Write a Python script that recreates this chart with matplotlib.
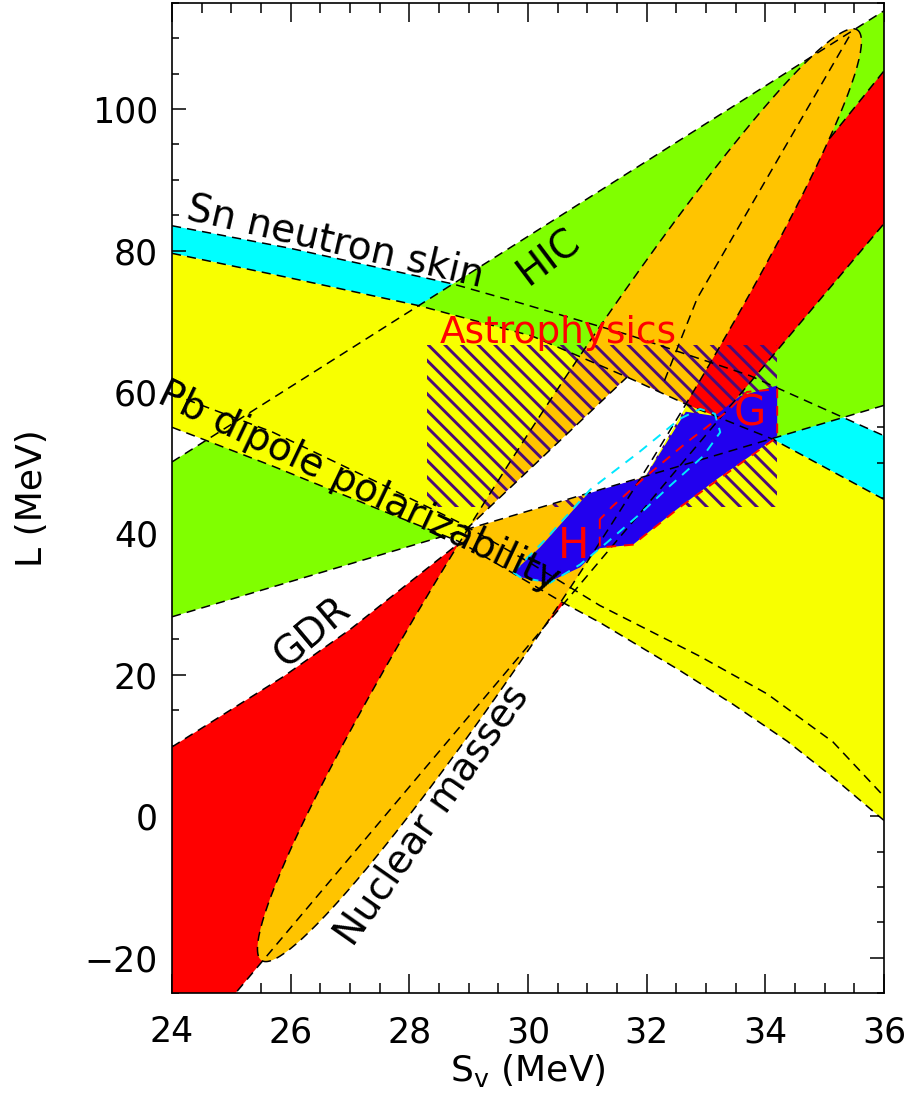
import matplotlib.pyplot as plt
import numpy as np
from matplotlib.patches import Polygon, Rectangle
from matplotlib.ticker import MultipleLocator

plt.rcParams['font.family'] = ['DejaVu Sans']
plt.rcParams['hatch.linewidth'] = 2.1
plt.rcParams['hatch.color'] = '#4b0a78'

# --- constraint boundaries, (Sv, L) in MeV ---
# Sn neutron skin (cyan band)
sn_up_sv = [24, 26, 28.72, 29.9, 31.72, 33.74, 36]
sn_up_L = [83.5, 80.3, 75.3, 72.5, 68.0, 62.3, 53.8]
sn_lo_sv = [24, 26, 28.16, 30.07, 31.67, 32.68, 34.13, 36]
sn_lo_L = [79.6, 76.1, 72.2, 67.9, 62.1, 58.2, 53.3, 44.8]

# HIC (green band)
hic_up_sv = [24, 36]
hic_up_L = [50.1, 113.9]
hic_lo_sv = [24, 36]
hic_lo_L = [28.2, 58.1]

# Pb dipole polarizability lines
pb_lo_sv = [24, 25.7, 27.37, 28.85, 30.59, 31.21, 32.56, 33.46, 34.37, 35.14, 36]
pb_lo_L = [55.0, 49.5, 43.8, 38.8, 30.2, 27.4, 20.6, 15.8, 10.6, 5.5, -0.6]
pb_hi_sv = [24, 25.7, 27.37, 28.85, 30.0, 31.21, 32.9, 34.03, 35.14, 36]
pb_hi_L = [59.7, 54.3, 47.6, 41.5, 36.0, 29.8, 22.6, 17.3, 10.5, 2.8]

# GDR (red band)
gdr_up_sv = [24, 25.87, 27.0, 28.85, 30.5, 32.5, 34.0, 35.09, 36]
gdr_up_L = [9.8, 19.7, 26.4, 38.7, 52.0, 70.0, 84.5, 95.9, 105.4]
gdr_rt_sv = [24.6, 36]
gdr_rt_L = [-29.7, 83.8]

# nuclear masses ellipse: centre, tip, half-width vector
mass_center = (30.53, 45.4)
mass_tip = (35.55, 111.2)
mass_width = (0.84, -4.6)
mass_inner_sv = [32.3, 32.85, 35.45]
mass_inner_L = [61.6, 73.2, 110.8]

# astrophysics box
astro_sv = (28.3, 34.2)
astro_L = (43.7, 66.6)

# experimentally allowed overlap (white)
white_sv = [28.95, 31.67, 32.68, 31.97]
white_L = [40.5, 62.1, 58.2, 48.0]

# unitary gas bounds H and G, and their union (blue)
h_sv = [29.75, 30.29, 31.05, 31.89, 32.56, 32.90, 33.15, 33.24, 32.95, 32.39,
        31.84, 31.33, 30.88, 30.37, 29.87]
h_L = [34.5, 39.1, 46.2, 51.6, 56.2, 57.6, 56.9, 54.3, 50.9, 46.7,
       42.4, 38.7, 35.6, 33.0, 33.8]
g_sv = [31.21, 31.21, 31.77, 32.56, 34.13, 34.20, 34.20, 33.69, 33.35, 32.68,
        31.94, 31.42, 31.26]
g_L = [42.0, 38.0, 38.4, 43.7, 53.2, 53.8, 60.4, 60.0, 57.2, 52.9,
       47.7, 43.8, 42.4]
blue_sv = [29.75, 30.20, 31.05, 31.97, 32.66, 33.15, 33.57, 34.20, 34.20, 33.74,
           33.19, 32.51, 31.77, 31.21, 30.88, 30.32, 29.87]
blue_L = [34.5, 38.0, 46.0, 47.9, 57.2, 56.6, 59.4, 60.9, 53.8, 50.9,
          47.7, 43.4, 38.4, 37.9, 35.2, 33.0, 33.8]

c_green = '#80ff00'
c_cyan = '#00ffff'
c_yellow = '#f8ff00'
c_red = '#ff0000'
c_orange = '#ffc400'
c_blue = '#2200ee'

fig = plt.figure(figsize=(9.1, 11.14), dpi=100)
ax = fig.add_axes([172 / 910, 1 - 993 / 1114, 712 / 910, 990 / 1114])


def band(up_x, up_y, lo_x, lo_y):
    return list(zip(up_x, up_y)) + list(zip(lo_x[::-1], lo_y[::-1]))


ax.add_patch(Polygon(band(sn_up_sv, sn_up_L, sn_lo_sv, sn_lo_L), fc=c_cyan, ec='none', zorder=1))
ax.add_patch(Polygon(band(hic_up_sv, hic_up_L, hic_lo_sv, hic_lo_L), fc=c_green, ec='none', zorder=2))
red_pts = [(24, -30)] + list(zip(gdr_up_sv, gdr_up_L)) + list(zip(gdr_rt_sv[::-1], gdr_rt_L[::-1]))
ax.add_patch(Polygon(red_pts, fc=c_red, ec='none', zorder=3))
ax.add_patch(Polygon(band(sn_lo_sv, sn_lo_L, pb_lo_sv, pb_lo_L), fc=c_yellow, ec='none', zorder=4))

th = np.linspace(0, 2 * np.pi, 300)
ux, uy = mass_tip[0] - mass_center[0], mass_tip[1] - mass_center[1]
ex = mass_center[0] + ux * np.cos(th) + mass_width[0] * np.sin(th)
ey = mass_center[1] + uy * np.cos(th) + mass_width[1] * np.sin(th)
ax.fill(ex, ey, color=c_orange, zorder=5, lw=0)

ax.add_patch(Rectangle((astro_sv[0], astro_L[0]), astro_sv[1] - astro_sv[0], astro_L[1] - astro_L[0],
                       fc='none', ec='#4b0a78', lw=0, hatch='\\\\', zorder=6))
ax.add_patch(Polygon(list(zip(blue_sv, blue_L)), fc=c_blue, ec='none', zorder=7))
ax.add_patch(Polygon(list(zip(white_sv, white_L)), fc='white', ec='none', zorder=8))

dash = dict(color='black', lw=1.1, ls=(0, (6, 4)), zorder=9)
ax.plot(sn_up_sv, sn_up_L, **dash)
ax.plot(sn_lo_sv, sn_lo_L, **dash)
ax.plot(hic_up_sv, hic_up_L, **dash)
ax.plot(hic_lo_sv, hic_lo_L, **dash)
ax.plot(pb_lo_sv, pb_lo_L, **dash)
ax.plot(pb_hi_sv, pb_hi_L, **dash)
ax.plot(gdr_up_sv[:4], gdr_up_L[:4], **dash)
ax.plot(gdr_up_sv[-2:], gdr_up_L[-2:], **dash)
ax.plot(gdr_rt_sv, gdr_rt_L, **dash)
ax.plot(ex, ey, **dash)
ax.plot(mass_inner_sv, mass_inner_L, **dash)
ax.plot(white_sv[:2], white_L[:2], **dash)
ax.plot(h_sv + h_sv[:1], h_L + h_L[:1], color='#00e8ff', lw=1.4, ls=(0, (5, 4)), zorder=10)
ax.plot(g_sv + g_sv[:1], g_L + g_L[:1], color=c_red, lw=1.4, ls=(0, (5, 4)), zorder=10)

lab = dict(ha='center', va='center', rotation_mode='anchor', fontsize=28, zorder=12)
ax.text(26.75, 81.2, 'Sn neutron skin', rotation=-13, **lab)
ax.text(30.34, 79.1, 'HIC', rotation=37, **lab)
ax.text(27.15, 46.6, 'Pb dipole polarizability', rotation=-25.5, **lab)
ax.text(26.38, 26.0, 'GDR', rotation=40, **lab)
ax.text(28.38, 0.1, 'Nuclear masses', rotation=55, **lab)
ax.text(30.51, 68.4, 'Astrophysics', color=c_red, ha='center', va='center', fontsize=27, zorder=12)
ax.text(30.76, 38.2, 'H', color=c_red, ha='center', va='center', fontsize=30, zorder=12)
ax.text(33.74, 56.9, 'G', color=c_red, ha='center', va='center', fontsize=30, zorder=12)

ax.set_xlim(24, 36)
ax.set_ylim(-25, 115)
ax.set_xticks(np.arange(24, 37, 2))
ax.set_yticks(np.arange(-20, 101, 20))
ax.xaxis.set_minor_locator(MultipleLocator(0.5))
ax.yaxis.set_minor_locator(MultipleLocator(5))
ax.tick_params(which='both', direction='in', top=True, right=True, labelsize=25, width=1.1)
ax.tick_params(axis='x', which='major', length=14, pad=16)
ax.tick_params(axis='x', which='minor', length=7)
ax.tick_params(axis='y', which='major', length=10, pad=10)
ax.tick_params(axis='y', which='minor', length=5)
for s in ax.spines.values():
    s.set_linewidth(1.2)
    s.set_zorder(20)

ax.set_xlabel(r'S$_{\rm v}$ (MeV)', fontsize=26, labelpad=2)
ax.set_ylabel('L (MeV)', fontsize=26, labelpad=26)

fig.savefig('out.png', dpi=100)
